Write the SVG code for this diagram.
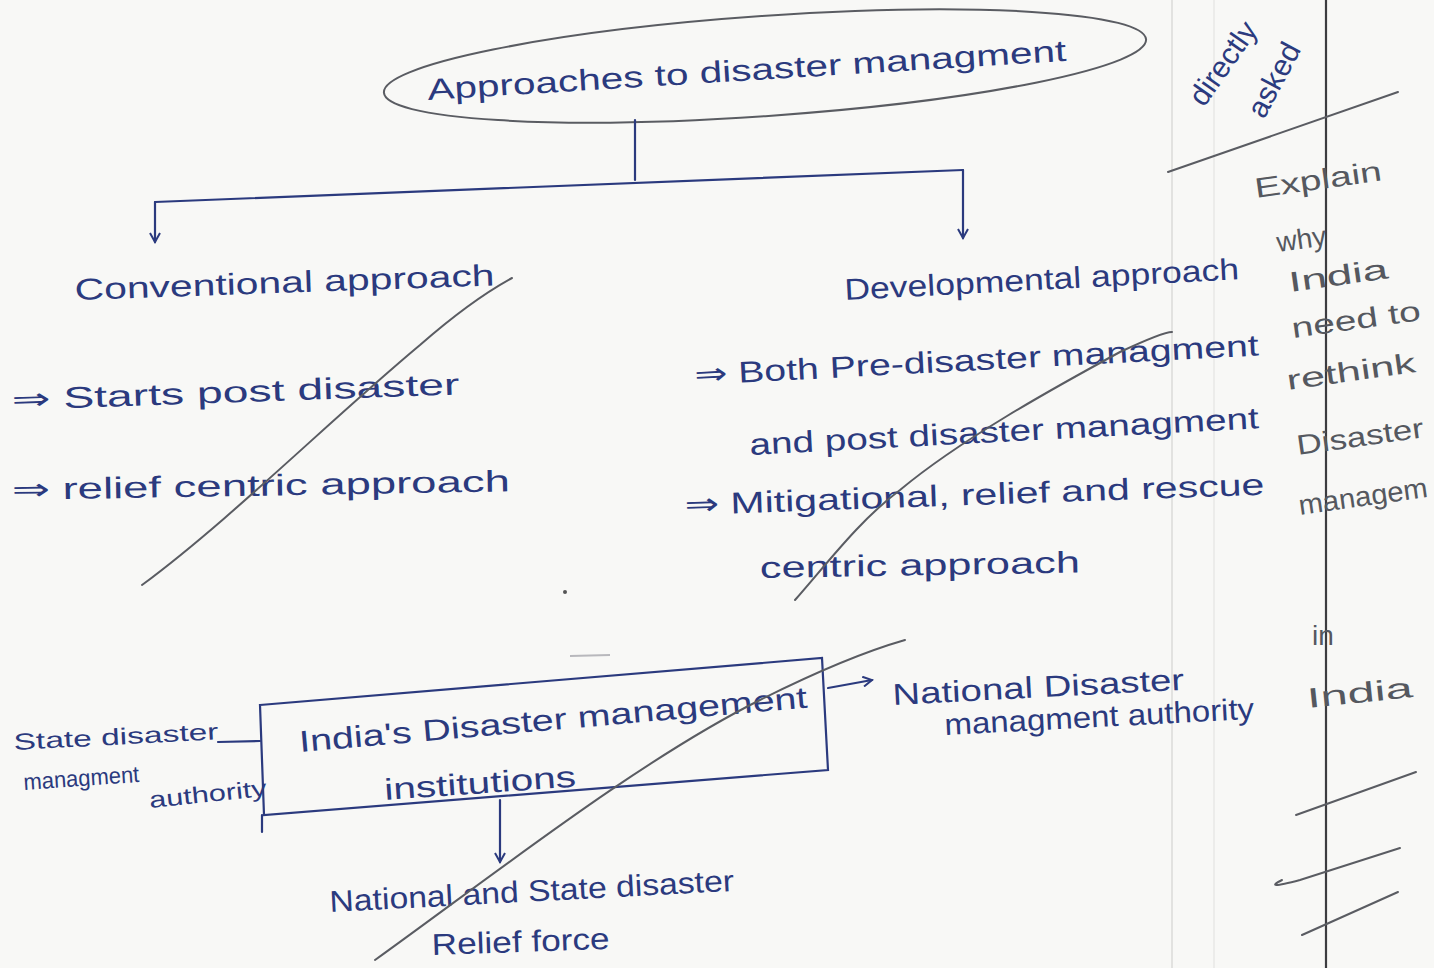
<svg xmlns="http://www.w3.org/2000/svg" width="1434" height="968" viewBox="0 0 1434 968">
<style>
.ink{font-family:"Liberation Sans","DejaVu Sans",sans-serif;fill:#2b3a7e;font-size:30px}
.sm{font-size:23px}
.pencil{font-family:"Liberation Sans","DejaVu Sans",sans-serif;fill:#55585f;font-size:28px}
.ln{fill:none;stroke:#2b3a7e;stroke-width:2.2;stroke-linecap:round}
.pl{fill:none;stroke:#5a5c62;stroke-width:2;stroke-linecap:round}
</style>
<defs>
<marker id="ah" viewBox="0 0 12 12" refX="10" refY="6" markerWidth="12" markerHeight="12" markerUnits="userSpaceOnUse" orient="auto">
<path d="M1,1 L10,6 L1,11" fill="none" stroke="#2b3a7e" stroke-width="2"/>
</marker>
</defs>
<rect width="1434" height="968" fill="#f8f8f6"/>
<g id="paper-lines">
<line x1="1172" y1="0" x2="1172" y2="968" stroke="#e2e2e0" stroke-width="2"/>
<line x1="1214" y1="0" x2="1214" y2="968" stroke="#ececea" stroke-width="2"/>
<line x1="1326" y1="0" x2="1326" y2="968" stroke="#3c3c40" stroke-width="2.2"/>
</g>

<g id="root">
<ellipse cx="765" cy="66" rx="382" ry="50" transform="rotate(-4 765 66)" fill="none" stroke="#5a5c62" stroke-width="2"/>
<text class="ink" x="428" y="100" textLength="640" lengthAdjust="spacingAndGlyphs" transform="rotate(-3.5 428 100)">Approaches to disaster managment</text>
</g>

<g id="conventional">
<text class="ink" x="75" y="300" textLength="420" lengthAdjust="spacingAndGlyphs" transform="rotate(-2 75 300)">Conventional approach</text>
<text class="ink" x="12" y="410" textLength="448" lengthAdjust="spacingAndGlyphs" transform="rotate(-2 12 410)">⇒ Starts post disaster</text>
<text class="ink" x="12" y="500" textLength="498" lengthAdjust="spacingAndGlyphs" transform="rotate(-1 12 500)">⇒ relief centric approach</text>
</g>

<g id="developmental">
<text class="ink" x="845" y="300" textLength="395" lengthAdjust="spacingAndGlyphs" transform="rotate(-3 845 300)">Developmental approach</text>
<text class="ink" x="695" y="385" textLength="565" lengthAdjust="spacingAndGlyphs" transform="rotate(-3 695 385)">⇒ Both Pre-disaster managment</text>
<text class="ink" x="750" y="455" textLength="510" lengthAdjust="spacingAndGlyphs" transform="rotate(-3 750 455)">and post disaster managment</text>
<text class="ink" x="685" y="515" textLength="580" lengthAdjust="spacingAndGlyphs" transform="rotate(-2 685 515)">⇒ Mitigational, relief and rescue</text>
<text class="ink" x="760" y="578" textLength="320" lengthAdjust="spacingAndGlyphs" transform="rotate(-1 760 578)">centric approach</text>
</g>

<g id="institutions">
<path class="ln" d="M260,705 L822,658 L828,770 L264,815 Z M262,815 L262,832"/>
<text class="ink" x="300" y="752" textLength="510" lengthAdjust="spacingAndGlyphs" transform="rotate(-5 300 752)">India's Disaster management</text>
<text class="ink" x="385" y="800" textLength="192" lengthAdjust="spacingAndGlyphs" transform="rotate(-4 385 800)">institutions</text>
</g>

<g id="sdma">
<text class="ink sm" x="14" y="750" textLength="205" lengthAdjust="spacingAndGlyphs" transform="rotate(-3 14 750)">State disaster</text>
<text class="ink sm" x="24" y="790" textLength="116" lengthAdjust="spacingAndGlyphs" transform="rotate(-4 24 790)">managment</text>
<text class="ink sm" x="150" y="808" textLength="118" lengthAdjust="spacingAndGlyphs" transform="rotate(-6 150 808)">authority</text>
</g>

<g id="ndma">
<text class="ink" x="893" y="705" textLength="292" lengthAdjust="spacingAndGlyphs" transform="rotate(-3 893 705)">National Disaster</text>
<text class="ink" x="945" y="735" textLength="310" lengthAdjust="spacingAndGlyphs" transform="rotate(-3 945 735)">managment authority</text>
</g>

<g id="ndrf">
<text class="ink" x="330" y="912" textLength="405" lengthAdjust="spacingAndGlyphs" transform="rotate(-3 330 912)">National and State disaster</text>
<text class="ink" x="432" y="955" textLength="178" lengthAdjust="spacingAndGlyphs" transform="rotate(-2 432 955)">Relief force</text>
</g>

<g id="connectors">
<line class="ln" x1="635" y1="120" x2="635" y2="180"/>
<line class="ln" x1="155" y1="202" x2="963" y2="170"/>
<line class="ln" x1="155" y1="202" x2="155" y2="242" marker-end="url(#ah)"/>
<line class="ln" x1="963" y1="170" x2="963" y2="238" marker-end="url(#ah)"/>
<line class="ln" x1="218" y1="742" x2="260" y2="741"/>
<line class="ln" x1="828" y1="688" x2="872" y2="680" marker-end="url(#ah)"/>
<line class="ln" x1="500" y1="800" x2="500" y2="862" marker-end="url(#ah)"/>
</g>

<g id="margin-notes">
<text class="ink" x="1204" y="108" font-size="22" transform="rotate(-55 1204 108)">directly</text>
<text class="ink" x="1264" y="120" font-size="26" transform="rotate(-62 1264 120)">asked</text>
<text class="pencil" x="1256" y="198" textLength="128" lengthAdjust="spacingAndGlyphs" transform="rotate(-8 1256 198)">Explain</text>
<text class="pencil" x="1278" y="252" transform="rotate(-8 1278 252)">why</text>
<text class="pencil" x="1290" y="292" textLength="100" lengthAdjust="spacingAndGlyphs" transform="rotate(-8 1290 292)">India</text>
<text class="pencil" x="1293" y="338" textLength="130" lengthAdjust="spacingAndGlyphs" transform="rotate(-8 1293 338)">need to</text>
<text class="pencil" x="1288" y="390" textLength="130" lengthAdjust="spacingAndGlyphs" transform="rotate(-8 1288 390)">rethink</text>
<text class="pencil" x="1298" y="455" textLength="128" lengthAdjust="spacingAndGlyphs" transform="rotate(-8 1298 455)">Disaster</text>
<text class="pencil" x="1300" y="515" textLength="130" lengthAdjust="spacingAndGlyphs" transform="rotate(-8 1300 515)">managem</text>
<text class="pencil" x="1312" y="645">in</text>
<text class="pencil" x="1308" y="708" font-size="40" textLength="106" lengthAdjust="spacingAndGlyphs" transform="rotate(-6 1308 708)">India</text>
</g>

<g id="pencil-marks">
<path class="pl" d="M142,585 C230,520 330,420 420,345 C460,310 490,290 512,278"/>
<path class="pl" d="M795,600 C830,560 860,520 900,490 C960,440 1050,390 1120,352 C1150,338 1165,332 1172,332"/>
<path class="pl" d="M375,960 C500,870 640,760 760,700 C820,670 870,650 905,640"/>
<path class="pl" d="M1168,172 L1398,92"/>
<path class="pl" d="M1296,815 L1416,772"/>
<path class="pl" d="M1282,880 Q1262,890 1300,880 L1400,848"/>
<path class="pl" d="M1302,935 L1398,892"/>
<line x1="570" y1="656" x2="610" y2="655" stroke="#b8b8bc" stroke-width="2"/>
<circle cx="565" cy="592" r="2" fill="#555"/>
</g>
</svg>
